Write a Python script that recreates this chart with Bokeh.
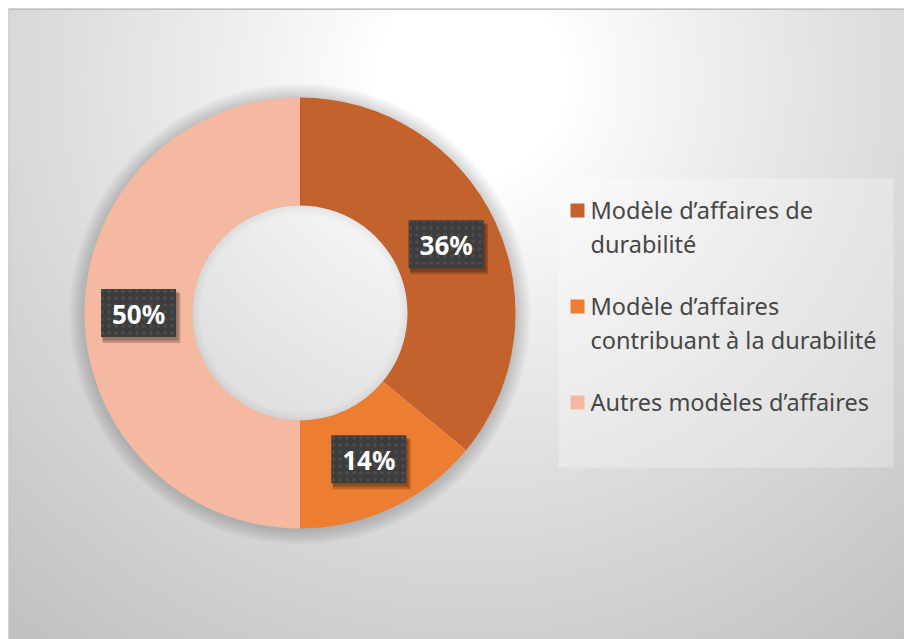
import numpy as np
from bokeh.plotting import figure
from bokeh.models import Range1d, Span
from bokeh.embed import file_html
from bokeh.resources import INLINE
from bokeh.core.properties import value

# ---- data ----
categories = ["Modèle d’affaires de durabilité",
              "Modèle d’affaires contribuant à la durabilité",
              "Autres modèles d’affaires"]
legend_lines = [["Modèle d’affaires de", "durabilité"],
                ["Modèle d’affaires", "contribuant à la durabilité"],
                ["Autres modèles d’affaires"]]
shares = [36, 14, 50]
labels = ["36%", "14%", "50%"]
colors = ["#C4622D", "#ED7D31", "#F5B9A1"]

# ---- layout (pixels) ----
W, H = 896, 631            # plot frame, placed 8px from left/top
cx, cy = 291.5, H - 304.5
r_in, r_out = 107.5, 215.5
FONT = "Noto Sans"

p = figure(width=W + 8, height=H + 8, x_range=Range1d(0, W), y_range=Range1d(0, H),
           output_backend="svg", toolbar_location=None,
           min_border_left=8, min_border_top=8, min_border_right=0, min_border_bottom=0,
           x_axis_type=None, y_axis_type=None)
p.grid.visible = False
p.outline_line_color = None
p.background_fill_color = "#e0e0e0"
p.border_fill_color = "#ffffff"

# background radial gradient
yy, xx = np.mgrid[0:H, 0:W]
d = np.hypot(xx - 462.0, (H - yy) - 72.0)
t = np.clip((d - 100.0) / 620.0, 0, 1) ** 0.9
v = (255 - 62 * t).astype(np.uint32)
img = (255 << 24) | (v << 16) | (v << 8) | v
p.image_rgba(image=[img.astype(np.uint32)], x=0, y=0, dw=W, dh=H)

# top and left edges of the chart area
p.add_layout(Span(location=H, dimension="width", line_color="#c0c0c0", line_width=3))
p.add_layout(Span(location=0, dimension="height", line_color="#c4c4c4", line_width=2))

# soft shadow around donut
for i in range(1, 12):
    p.annulus(x=cx, y=cy - 1, inner_radius=r_out - 2, outer_radius=r_out + i * 1.4,
              fill_color="black", fill_alpha=0.014, line_color=None)

# donut slices
fr = np.array(shares, dtype=float) / sum(shares)
cum = np.concatenate([[0], np.cumsum(fr)])
starts = np.pi / 2 - 2 * np.pi * cum[:-1]
ends = np.pi / 2 - 2 * np.pi * cum[1:]
p.annular_wedge(x=cx, y=cy, inner_radius=r_in, outer_radius=r_out,
                start_angle=starts, end_angle=ends, direction="clock",
                fill_color=colors, line_color=None)

# hole shading
for i in range(1, 8):
    p.annulus(x=cx, y=cy, inner_radius=r_in - i * 1.2, outer_radius=r_in + 0.5,
              fill_color="black", fill_alpha=0.008, line_color=None)

# data labels at mid-angle / mid-radius
mid = np.pi / 2 - 2 * np.pi * (cum[:-1] + fr / 2)
rm = (r_in + r_out) / 2
lx = cx + rm * np.cos(mid)
ly = cy + rm * np.sin(mid)
p.rect(x=lx + 3, y=ly - 5, width=78, height=50, fill_color="black",
       fill_alpha=0.2, line_color=None)
p.rect(x=lx + 2, y=ly - 3, width=76, height=49, fill_color="black",
       fill_alpha=0.22, line_color=None)
p.rect(x=lx, y=ly, width=75, height=48, fill_color="#3d3d3d",
       line_color=None, hatch_pattern="dot", hatch_color="#4d4d4d",
       hatch_scale=7, hatch_weight=1.2)
p.text(x=lx, y=ly - 1, text=labels, text_font=value(FONT), text_font_style="bold",
       text_font_size="26px", text_color="white", text_align="center",
       text_baseline="middle")

# legend (drawn manually)
p.rect(x=(550 + 885) / 2, y=H - (170 + 459) / 2, width=335, height=289,
       fill_color="white", fill_alpha=0.28, line_color=None)
y0 = H - 201.0
line_gap, item_gap = 34.0, 28.0
sq_x, sq_y, tx, ty = [], [], [], []
tlines = []
y = y0
for k, lines in enumerate(legend_lines):
    sq_x.append(569.0)
    sq_y.append(y - 1)
    for ln in lines:
        tx.append(582.0)
        ty.append(y)
        tlines.append(ln)
        y -= line_gap
    y -= item_gap
p.rect(x=sq_x, y=sq_y, width=14, height=14, fill_color=colors, line_color=None)
p.text(x=tx, y=ty, text=tlines, text_font=value(FONT), text_font_size="23.5px",
       text_color="#474747", text_align="left", text_baseline="middle")

open("out.html", "w").write(file_html(p, INLINE))
